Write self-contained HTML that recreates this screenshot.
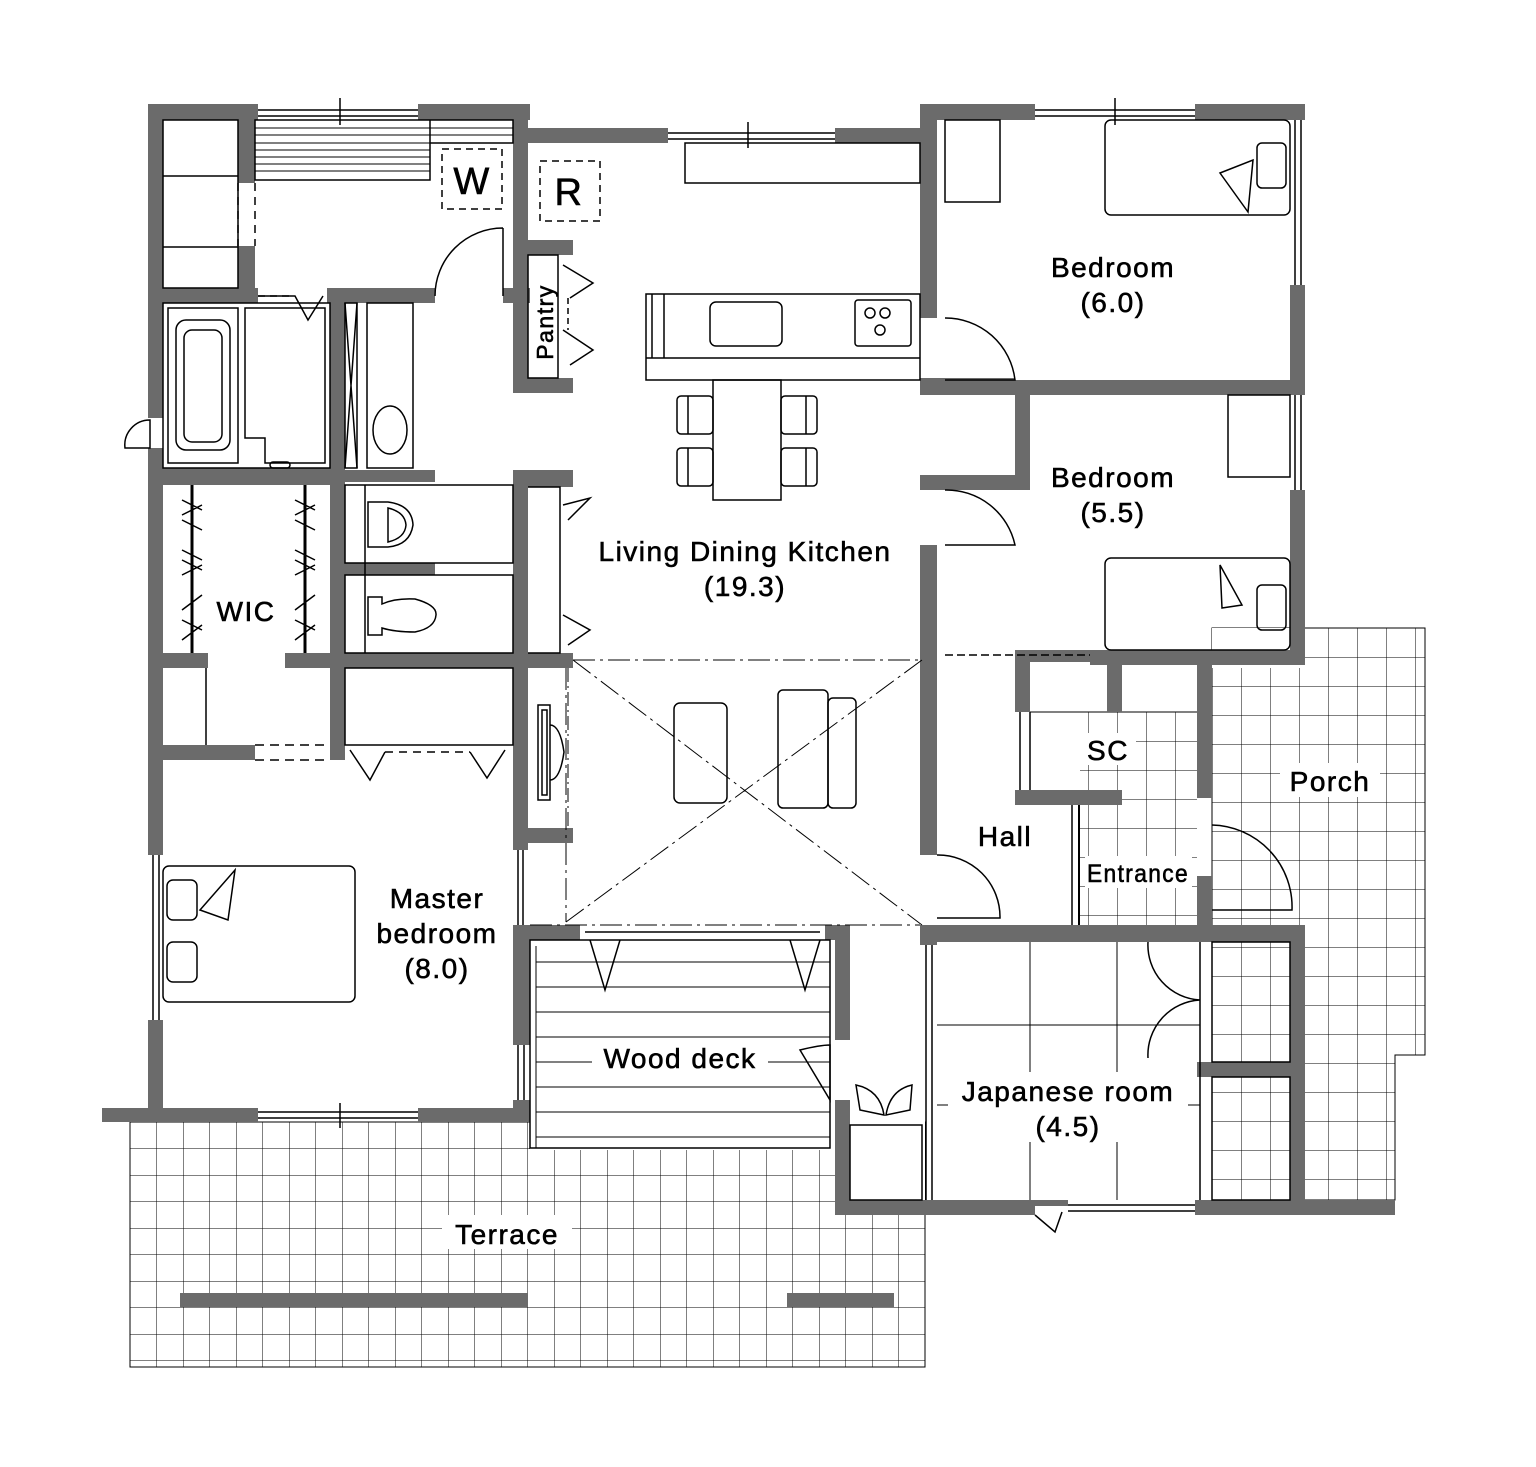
<!DOCTYPE html>
<html><head><meta charset="utf-8"><style>
html,body{margin:0;padding:0;background:#fff;}
svg{display:block;}
text{font-family:"Liberation Sans",sans-serif;fill:#000;}
.lb text{stroke:#000;stroke-width:0.6;letter-spacing:1.5px;}
</style></head><body>
<svg width="1536" height="1467" viewBox="0 0 1536 1467" xmlns="http://www.w3.org/2000/svg">
<defs>
<pattern id="g" x="130" y="1122" width="26.5" height="26.5" patternUnits="userSpaceOnUse">
<path d="M0 0H26.5M0 0V26.5" stroke="#000" stroke-width="1" fill="none"/></pattern>
<pattern id="p" x="1212" y="628" width="29" height="29" patternUnits="userSpaceOnUse">
<path d="M0 0H29M0 0V29" stroke="#000" stroke-width="1" fill="none"/></pattern>
<pattern id="e" x="1030" y="712" width="29" height="29" patternUnits="userSpaceOnUse">
<path d="M0 0H29M0 0V29" stroke="#000" stroke-width="1" fill="none"/></pattern>
</defs>
<rect x="130" y="1122" width="795" height="245" fill="url(#g)" stroke="#000"/>
<path d="M1212 628H1425V1055H1395V1200H1212Z" fill="url(#p)" stroke="#000"/>
<rect x="1212" y="628" width="90" height="40" fill="#fff"/>
<rect x="1030" y="712" width="167" height="213" fill="url(#e)"/>
<rect x="1030" y="712" width="50" height="90" fill="#fff"/>
<rect x="1030" y="805" width="48" height="120" fill="#fff"/>
<rect x="1078" y="805" width="2" height="120" fill="#000"/>
<line x1="1030" y1="712" x2="1197" y2="712" stroke="#000"/>
<rect x="530" y="940" width="305" height="210" fill="#fff"/>
<rect x="850" y="940" width="75" height="265" fill="#fff"/>

<g fill="#6b6b6b">
<rect x="148" y="104" width="110" height="16"/>
<rect x="418" y="104" width="112" height="16"/>
<rect x="148" y="104" width="15" height="314"/>
<rect x="148" y="448" width="15" height="407"/>
<rect x="148" y="1020" width="15" height="102"/>
<rect x="238" y="120" width="17" height="63"/>
<rect x="238" y="246" width="17" height="57"/>
<rect x="148" y="288" width="110" height="15"/>
<rect x="327" y="288" width="108" height="15"/>
<rect x="503" y="288" width="27" height="15"/>
<rect x="513" y="104" width="15" height="199"/>
<rect x="513" y="240" width="15" height="153"/>
<rect x="513" y="240" width="60" height="15"/>
<rect x="513" y="378" width="60" height="15"/>
<rect x="515" y="128" width="153" height="15"/>
<rect x="835" y="128" width="100" height="15"/>
<rect x="330" y="288" width="15" height="182"/>
<rect x="148" y="468" width="197" height="17"/>
<rect x="330" y="470" width="105" height="12"/>
<rect x="513" y="470" width="60" height="17"/>
<rect x="330" y="470" width="15" height="290"/>
<rect x="345" y="563" width="90" height="12"/>
<rect x="513" y="470" width="15" height="380"/>
<rect x="148" y="653" width="60" height="15"/>
<rect x="285" y="653" width="288" height="15"/>
<rect x="148" y="745" width="107" height="15"/>
<rect x="528" y="828" width="45" height="15"/>
<rect x="513" y="925" width="17" height="120"/>
<rect x="513" y="1100" width="17" height="22"/>
<rect x="102" y="1108" width="156" height="14"/>
<rect x="418" y="1108" width="112" height="14"/>
<rect x="513" y="925" width="67" height="15"/>
<rect x="825" y="925" width="25" height="15"/>
<rect x="835" y="925" width="15" height="115"/>
<rect x="835" y="1100" width="15" height="115"/>
<rect x="920" y="104" width="115" height="16"/>
<rect x="1195" y="104" width="110" height="16"/>
<rect x="920" y="104" width="17" height="214"/>
<rect x="920" y="380" width="17" height="15"/>
<rect x="920" y="143" width="17" height="175"/>
<rect x="1290" y="104" width="15" height="16"/>
<rect x="1290" y="285" width="15" height="110"/>
<rect x="1290" y="490" width="15" height="175"/>
<rect x="920" y="378" width="95" height="17"/>
<rect x="1015" y="380" width="290" height="15"/>
<rect x="1015" y="380" width="15" height="110"/>
<rect x="937" y="475" width="93" height="15"/>
<rect x="920" y="475" width="17" height="15"/>
<rect x="920" y="545" width="17" height="310"/>
<rect x="1090" y="650" width="215" height="15"/>
<rect x="1015" y="650" width="90" height="12"/>
<rect x="1015" y="650" width="15" height="62"/>
<rect x="1107" y="650" width="15" height="62"/>
<rect x="1015" y="790" width="107" height="15"/>
<rect x="1197" y="660" width="15" height="138"/>
<rect x="1197" y="876" width="15" height="50"/>
<rect x="920" y="925" width="385" height="17"/>
<rect x="920" y="925" width="17" height="20"/>
<rect x="1290" y="925" width="15" height="290"/>
<rect x="1197" y="1062" width="108" height="15"/>
<rect x="835" y="1200" width="200" height="15"/>
<rect x="1195" y="1200" width="200" height="15"/>
<rect x="1032" y="1200" width="36" height="6"/>
</g>

<g fill="none" stroke="#000" stroke-width="1.5">
<line x1="258" y1="110" x2="418" y2="110"/><line x1="258" y1="116" x2="418" y2="116"/><line x1="340" y1="98" x2="340" y2="125"/>
<line x1="668" y1="133" x2="835" y2="133"/><line x1="668" y1="139" x2="835" y2="139"/><line x1="748" y1="122" x2="748" y2="148"/>
<line x1="1035" y1="110" x2="1195" y2="110"/><line x1="1035" y1="116" x2="1195" y2="116"/><line x1="1115" y1="98" x2="1115" y2="125"/>
<line x1="1295" y1="120" x2="1295" y2="285"/><line x1="1301" y1="120" x2="1301" y2="285"/>
<line x1="1295" y1="395" x2="1295" y2="490"/><line x1="1301" y1="395" x2="1301" y2="490"/>
<line x1="153" y1="855" x2="153" y2="1020"/><line x1="159" y1="855" x2="159" y2="1020"/>
<line x1="258" y1="1112" x2="418" y2="1112"/><line x1="258" y1="1118" x2="418" y2="1118"/><line x1="340" y1="1103" x2="340" y2="1128"/>
<line x1="518" y1="1045" x2="518" y2="1100"/><line x1="524" y1="1045" x2="524" y2="1100"/>
<line x1="1068" y1="1205" x2="1195" y2="1205"/><line x1="1068" y1="1211" x2="1195" y2="1211"/>
<line x1="926" y1="945" x2="926" y2="1200"/><line x1="932" y1="945" x2="932" y2="1200"/>
<rect x="163" y="120" width="75" height="168"/>
<line x1="163" y1="176" x2="238" y2="176"/><line x1="163" y1="247" x2="238" y2="247"/>
<line x1="238" y1="183" x2="238" y2="246" stroke-dasharray="8 6"/><line x1="255" y1="183" x2="255" y2="246" stroke-dasharray="8 6"/>
<path d="M255 120H430V180H255Z M430 120H513V143H430"/>
<g stroke-width="1"><line x1="255" y1="128" x2="430" y2="128"/><line x1="255" y1="135" x2="430" y2="135"/><line x1="255" y1="143" x2="430" y2="143"/><line x1="255" y1="150" x2="430" y2="150"/><line x1="255" y1="157" x2="430" y2="157"/><line x1="255" y1="164" x2="430" y2="164"/><line x1="255" y1="171" x2="430" y2="171"/><line x1="430" y1="128" x2="513" y2="128"/><line x1="430" y1="135" x2="513" y2="135"/></g>
<rect x="442" y="149" width="60" height="60" stroke-dasharray="7 5"/>
<rect x="540" y="161" width="60" height="60" stroke-dasharray="7 5"/>
<path d="M503 228A68 68 0 0 0 435 296M503 228V296"/>
<rect x="163" y="303" width="167" height="165"/>
<rect x="168" y="308" width="70" height="155"/>
<rect x="176" y="320" width="54" height="130" rx="10"/>
<rect x="184" y="330" width="38" height="112" rx="8"/>
<path d="M245 308H325V463H265V438H245Z"/>
<rect x="270" y="462" width="20" height="6" rx="3"/>
<path d="M258 296H295L308 320L323 296" /><line x1="258" y1="296" x2="290" y2="296" stroke-dasharray="7 5"/>
<rect x="345" y="303" width="12" height="165"/><path d="M345 303L357 468M357 303L345 468"/>
<rect x="367" y="303" width="46" height="165"/>
<ellipse cx="390" cy="430" rx="17" ry="24"/>
<path d="M125 448A25 25 0 0 1 150 420V448Z"/>
<rect x="528" y="255" width="30" height="123"/>
<path d="M563 265L593 283L570 298M563 330L593 350L570 365"/>
<line x1="568" y1="298" x2="568" y2="330" stroke-dasharray="6 4"/>
<line x1="192" y1="485" x2="192" y2="653" stroke-width="3"/>
<line x1="305" y1="485" x2="305" y2="653" stroke-width="3"/>
<path d="M182 500L202 510M182 515L202 505M182 520L202 530M182 550L202 560M182 560L202 570M182 575L202 565M182 610L202 595M182 620L202 630M182 640L202 625"/>
<path d="M295 500L315 510M295 515L315 505M295 520L315 530M295 550L315 560M295 560L315 570M295 575L315 565M295 610L315 595M295 620L315 630M295 640L315 625"/>
<line x1="206" y1="668" x2="206" y2="745"/>
<line x1="255" y1="745" x2="330" y2="745" stroke-dasharray="9 6"/><line x1="255" y1="760" x2="330" y2="760" stroke-dasharray="9 6"/>
<rect x="345" y="485" width="168" height="78"/><rect x="345" y="575" width="168" height="78"/>
<line x1="365" y1="485" x2="365" y2="653"/>
<path d="M368 502H388Q412 505 413 525Q410 545 388 547H368Z"/><path d="M388 508Q405 512 406 525Q405 538 388 542Z"/>
<path d="M368 597H382V604Q395 598 415 599Q437 605 436 615Q435 628 415 632Q395 632 382 628V635H368Z"/>
<path d="M528 487H560V653H528M563 505L590 498L568 520M563 615L590 630L568 645"/>
<rect x="345" y="668" width="168" height="77"/>
<path d="M350 750L370 780L385 752M470 752L487 778L505 750"/>
<line x1="385" y1="752" x2="470" y2="752" stroke-dasharray="8 6"/>
<rect x="538" y="705" width="12" height="95"/><rect x="542" y="710" width="5" height="85"/>
<path d="M550 725Q560 725 564 752Q560 780 550 780"/>
<line x1="568" y1="668" x2="568" y2="828" stroke-dasharray="14 4 2 4" stroke-width="1"/>
<rect x="163" y="866" width="192" height="136" rx="6"/>
<rect x="167" y="880" width="30" height="40" rx="6"/><rect x="167" y="942" width="30" height="40" rx="6"/>
<path d="M200 910L235 870L228 920Z"/>
<line x1="518" y1="850" x2="518" y2="925"/><line x1="523" y1="850" x2="523" y2="925"/>
<rect x="685" y="143" width="235" height="40"/>
<rect x="646" y="294" width="274" height="86"/>
<line x1="646" y1="358" x2="920" y2="358"/><line x1="664" y1="294" x2="664" y2="358"/><line x1="652" y1="294" x2="652" y2="358"/>
<rect x="710" y="302" width="72" height="44" rx="6"/>
<rect x="855" y="300" width="56" height="46" rx="3"/>
<circle cx="870" cy="313" r="5"/><circle cx="885" cy="313" r="5"/><circle cx="880" cy="330" r="5"/>
<rect x="713" y="380" width="68" height="120"/>
<rect x="677" y="396" width="36" height="38" rx="4"/><line x1="688" y1="396" x2="688" y2="434"/>
<rect x="677" y="448" width="36" height="38" rx="4"/><line x1="688" y1="448" x2="688" y2="486"/>
<rect x="781" y="396" width="36" height="38" rx="4"/><line x1="806" y1="396" x2="806" y2="434"/>
<rect x="781" y="448" width="36" height="38" rx="4"/><line x1="806" y1="448" x2="806" y2="486"/>
<g stroke-width="1" stroke-dasharray="22 5 3 5"><path d="M573 660H922M566 668V922M573 660L922 925M922 660L566 922M530 925H920"/></g>
<rect x="674" y="703" width="53" height="100" rx="6"/>
<rect x="778" y="690" width="50" height="118" rx="5"/><rect x="828" y="698" width="28" height="110" rx="5"/>
<rect x="530" y="940" width="300" height="208"/>
<g stroke-width="1"><line x1="536" y1="962" x2="830" y2="962"/><line x1="536" y1="987" x2="830" y2="987"/><line x1="536" y1="1012" x2="830" y2="1012"/><line x1="536" y1="1037" x2="830" y2="1037"/><line x1="536" y1="1062" x2="830" y2="1062"/><line x1="536" y1="1087" x2="830" y2="1087"/><line x1="536" y1="1112" x2="830" y2="1112"/><line x1="536" y1="1137" x2="830" y2="1137"/><line x1="536" y1="946" x2="536" y2="1148"/></g>
<path d="M585 932H820M590 940L605 990L620 940M790 940L805 990L820 940"/>
<path d="M800 1050Q820 1045 830 1045L830 1100Z"/>
<rect x="850" y="1125" width="72" height="75"/>
<path d="M856 1085Q880 1090 884 1115L860 1110ZM912 1085Q890 1090 886 1115L910 1110Z"/>
<rect x="945" y="120" width="55" height="82"/>
<rect x="1105" y="120" width="185" height="95" rx="6"/>
<rect x="1257" y="143" width="29" height="45" rx="5"/>
<path d="M1220 173L1253 160L1248 212Z"/>
<path d="M945 318A70 70 0 0 1 1015 380H945"/>
<rect x="1228" y="395" width="62" height="82"/>
<rect x="1105" y="558" width="185" height="92" rx="6"/>
<rect x="1257" y="585" width="29" height="45" rx="5"/>
<path d="M1220 565L1242 605L1222 608Z"/>
<path d="M945 490A70 70 0 0 1 1015 545H945"/>
<line x1="945" y1="655" x2="1090" y2="655" stroke-dasharray="8 4"/>
<path d="M937 855A62 62 0 0 1 1000 918H937"/>
<line x1="1020" y1="712" x2="1020" y2="790"/><line x1="1030" y1="712" x2="1030" y2="790"/>
<line x1="1072" y1="805" x2="1072" y2="925"/>
<path d="M1212 825A82 82 0 0 1 1292 910H1212"/>
<g stroke-width="1"><line x1="1030" y1="942" x2="1030" y2="1200"/><line x1="1117" y1="942" x2="1117" y2="1200"/><line x1="937" y1="1025" x2="1200" y2="1025"/><line x1="937" y1="1105" x2="1200" y2="1105"/></g>
<rect x="1212" y="942" width="78" height="120"/><rect x="1212" y="1077" width="78" height="123"/>
<line x1="1200" y1="942" x2="1200" y2="1200"/>
<path d="M1148 942A55 55 0 0 0 1200 1000M1148 1058A55 55 0 0 1 1200 1000"/>
<path d="M1035 1215L1055 1232L1062 1212"/>
</g>

<g class="lb" font-size="28" text-anchor="middle">
<text x="472" y="194" font-size="38">W</text>
<text x="569" y="205" font-size="38">R</text>
<text transform="translate(553,322) rotate(-90)" font-size="23">Pantry</text>
<text x="1113" y="277">Bedroom</text><text x="1113" y="312">(6.0)</text>
<text x="1113" y="487">Bedroom</text><text x="1113" y="522">(5.5)</text>
<text x="745" y="561">Living Dining Kitchen</text><text x="745" y="596">(19.3)</text>
<text x="246" y="621">WIC</text>
<rect x="1080" y="733" width="56" height="32" fill="#fff" stroke="none"/><text x="1108" y="760">SC</text>
<rect x="1280" y="763" width="100" height="34" fill="#fff" stroke="none"/><text x="1330" y="791">Porch</text>
<text x="1005" y="846">Hall</text>
<rect x="1085" y="856" width="107" height="32" fill="#fff" stroke="none"/><text x="1138" y="882" font-size="25" textLength="102" lengthAdjust="spacingAndGlyphs">Entrance</text>
<text x="437" y="908">Master</text><text x="437" y="943">bedroom</text><text x="437" y="978">(8.0)</text>
<rect x="592" y="1040" width="176" height="34" fill="#fff" stroke="none"/><text x="680" y="1068">Wood deck</text>
<rect x="948" y="1072" width="240" height="70" fill="#fff" stroke="none"/>
<text x="1068" y="1101">Japanese room</text><text x="1068" y="1136">(4.5)</text>
<rect x="442" y="1215" width="130" height="34" fill="#fff" stroke="none"/><text x="507" y="1244">Terrace</text>
</g>
<rect x="180" y="1293" width="348" height="14" fill="#6b6b6b"/>
<rect x="787" y="1293" width="107" height="14" fill="#6b6b6b"/>
</svg>
</body></html>
